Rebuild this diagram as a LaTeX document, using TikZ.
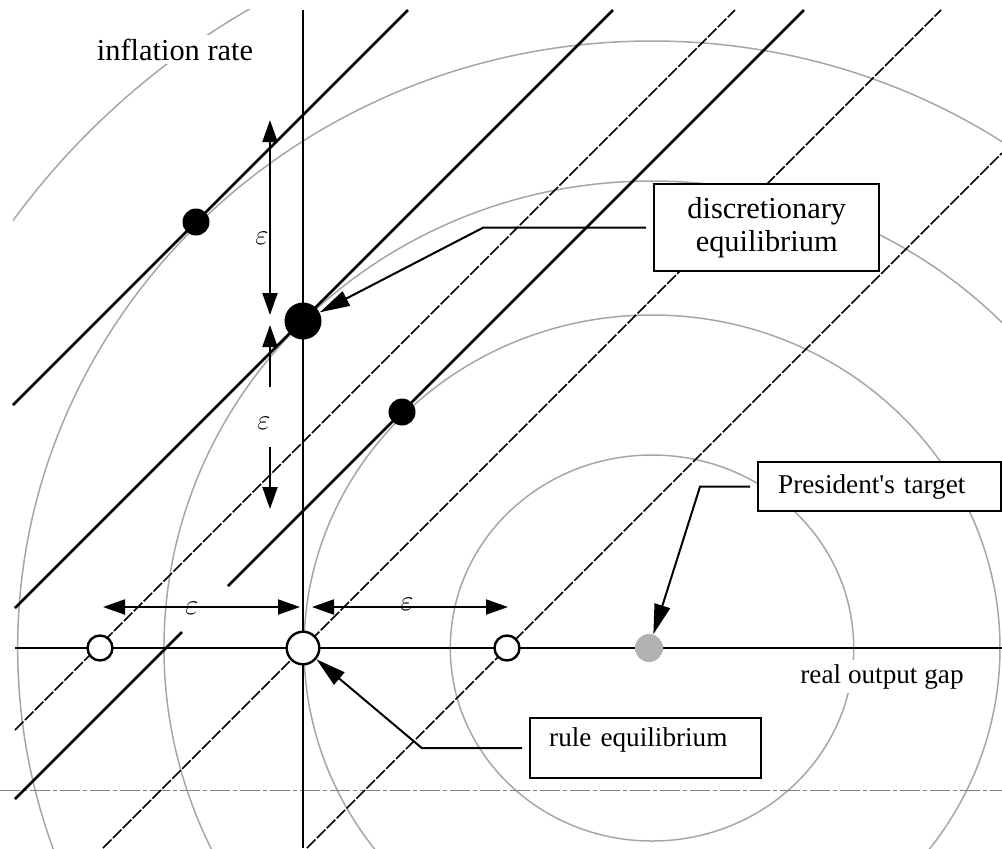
\documentclass[tikz,border=0pt]{standalone}
\usepackage{fontspec}
\setmainfont{Liberation Serif}
\usetikzlibrary{arrows.meta,positioning}

\begin{document}
\begin{tikzpicture}[
    x=0.5pt, y=-0.5pt,
    font=\fontsize{13.6}{16}\selectfont,
    bigtext/.style={font=\fontsize{15.2}{16.5}\selectfont},
    phil/.style={line width=1.25pt},
    philx/.style={line width=0.8pt, dash pattern=on 6pt off 1pt},
    indiff/.style={gray!70, line width=0.75pt},
    axis/.style={line width=1.25pt},
    eps/.style={{Triangle[length=11pt,width=7.5pt]}-{Triangle[length=11pt,width=7.5pt]}, line width=1pt},
    epsone/.style={-{Triangle[length=11pt,width=7.5pt]}, line width=1pt},
    lead/.style={-{Triangle[length=15pt,width=8pt]}, line width=1pt, shorten <=3.5pt},
    tag/.style={draw, line width=1.2pt, fill=white},
    fulldot/.style={circle, fill=black, inner sep=0pt, minimum size=13.5pt},
    bigdot/.style={circle, fill=black, inner sep=0pt, minimum size=18.5pt},
    opendot/.style={circle, draw, line width=1.2pt, fill=white, inner sep=0pt, minimum size=12.5pt},
    targetdot/.style={circle, fill=gray!60, inner sep=0pt, minimum size=14pt},
    epslab/.style={inner sep=0pt}
]
  \useasboundingbox (0,0) rectangle (1002,848);

  % loss circles round the target
  \coordinate (centre) at (652,648);
  \begin{scope}
    \clip (13,9) rectangle (1002,848);
    \foreach \r in {193,333,467,607,746}
      \draw[indiff] (centre) ellipse [x radius=\r*0.5225pt, y radius=\r*0.5pt];
  \end{scope}

  \draw[gray, line width=0.4pt, dash pattern=on 10pt off 1.5pt on 2pt off 1.5pt] (0,790) -- (1002,790);

  % Phillips curves
  \draw[phil] (13,405) -- (408,10);
  \draw[phil] (15,608) -- (613,10);
  \draw[phil] (15,799) -- (182,632);
  \draw[phil] (228,586) -- (804,10);
  \draw[philx] (15,730) -- (735,10);
  \draw[philx] (103,848) -- (941,10);
  \draw[philx] (307,848) -- (1002,153);

  % axes
  \draw[axis] (303,10) -- (303,848);
  \draw[axis] (15,648) -- (1002,648);
  \node[bigtext, fill=white, inner sep=2pt, anchor=base] (ylab) at (175,60) {inflation rate};
  \node[fill=white, inner sep=2pt, anchor=base] (xlab) at (882,683) {real output gap};

  % shocks
  \coordinate (vA) at (270,120);
  \coordinate (vB) at (270,315);
  \coordinate (vC) at (270,387);
  \coordinate (vD) at (270,325);
  \coordinate (vE) at (270,447);
  \coordinate (vF) at (270,509);
  \coordinate (hA) at (103,607);
  \coordinate (hB) at (300,607);
  \coordinate (hC) at (312,607);
  \coordinate (hD) at (508,607);
  \draw[eps] (vA) -- (vB);
  \draw[epsone] (vC) -- (vD);
  \draw[epsone] (vE) -- (vF);
  \draw[eps] (hA) -- (hB);
  \draw[eps] (hC) -- (hD);
  \node[epslab] (e1) at (262,238) {$\varepsilon$};
  \node[epslab] (e2) at (264,423) {$\varepsilon$};
  \node[epslab] (e3) at (192,608) {$\varepsilon$};
  \node[epslab] (e4) at (407,604) {$\varepsilon$};

  % equilibria
  \node[fulldot] (dA) at (196,222) {};
  \node[bigdot] (disc) at (303,321) {};
  \node[fulldot] (dC) at (402,412) {};
  \node[opendot] (ruleL) at (100,648) {};
  \node[opendot, minimum size=16.3pt] (rule) at (303,648) {};
  \node[opendot] (ruleR) at (507,648) {};
  \node[targetdot] (target) at (649,648) {};

  % labels
  \node[tag, bigtext, anchor=north west, align=center, minimum width=112.5pt, minimum height=43.5pt] (disctag) at (653,183) {discretionary\\equilibrium};
  \node[tag, anchor=north west, align=left, text width=96.5pt, inner xsep=9.5pt, inner ysep=3pt, text height=11pt, text depth=13pt] (ruletag) at (529,717) {rule equilibrium};
  \node[tag, anchor=north west, align=left, text width=101.5pt, inner xsep=10pt, inner ysep=3pt, text height=12.5pt, text depth=6pt] (prestag) at (757,461) {President\textquotesingle s target};

  \draw[lead] (disctag.west) -- ++(-170,0) -- (disc);
  \draw[lead] (ruletag.west) -- ++(-107,0) -- (rule);
  \draw[lead] (prestag.west) -- ++(-57,0) -- (target);
\end{tikzpicture}
\end{document}
